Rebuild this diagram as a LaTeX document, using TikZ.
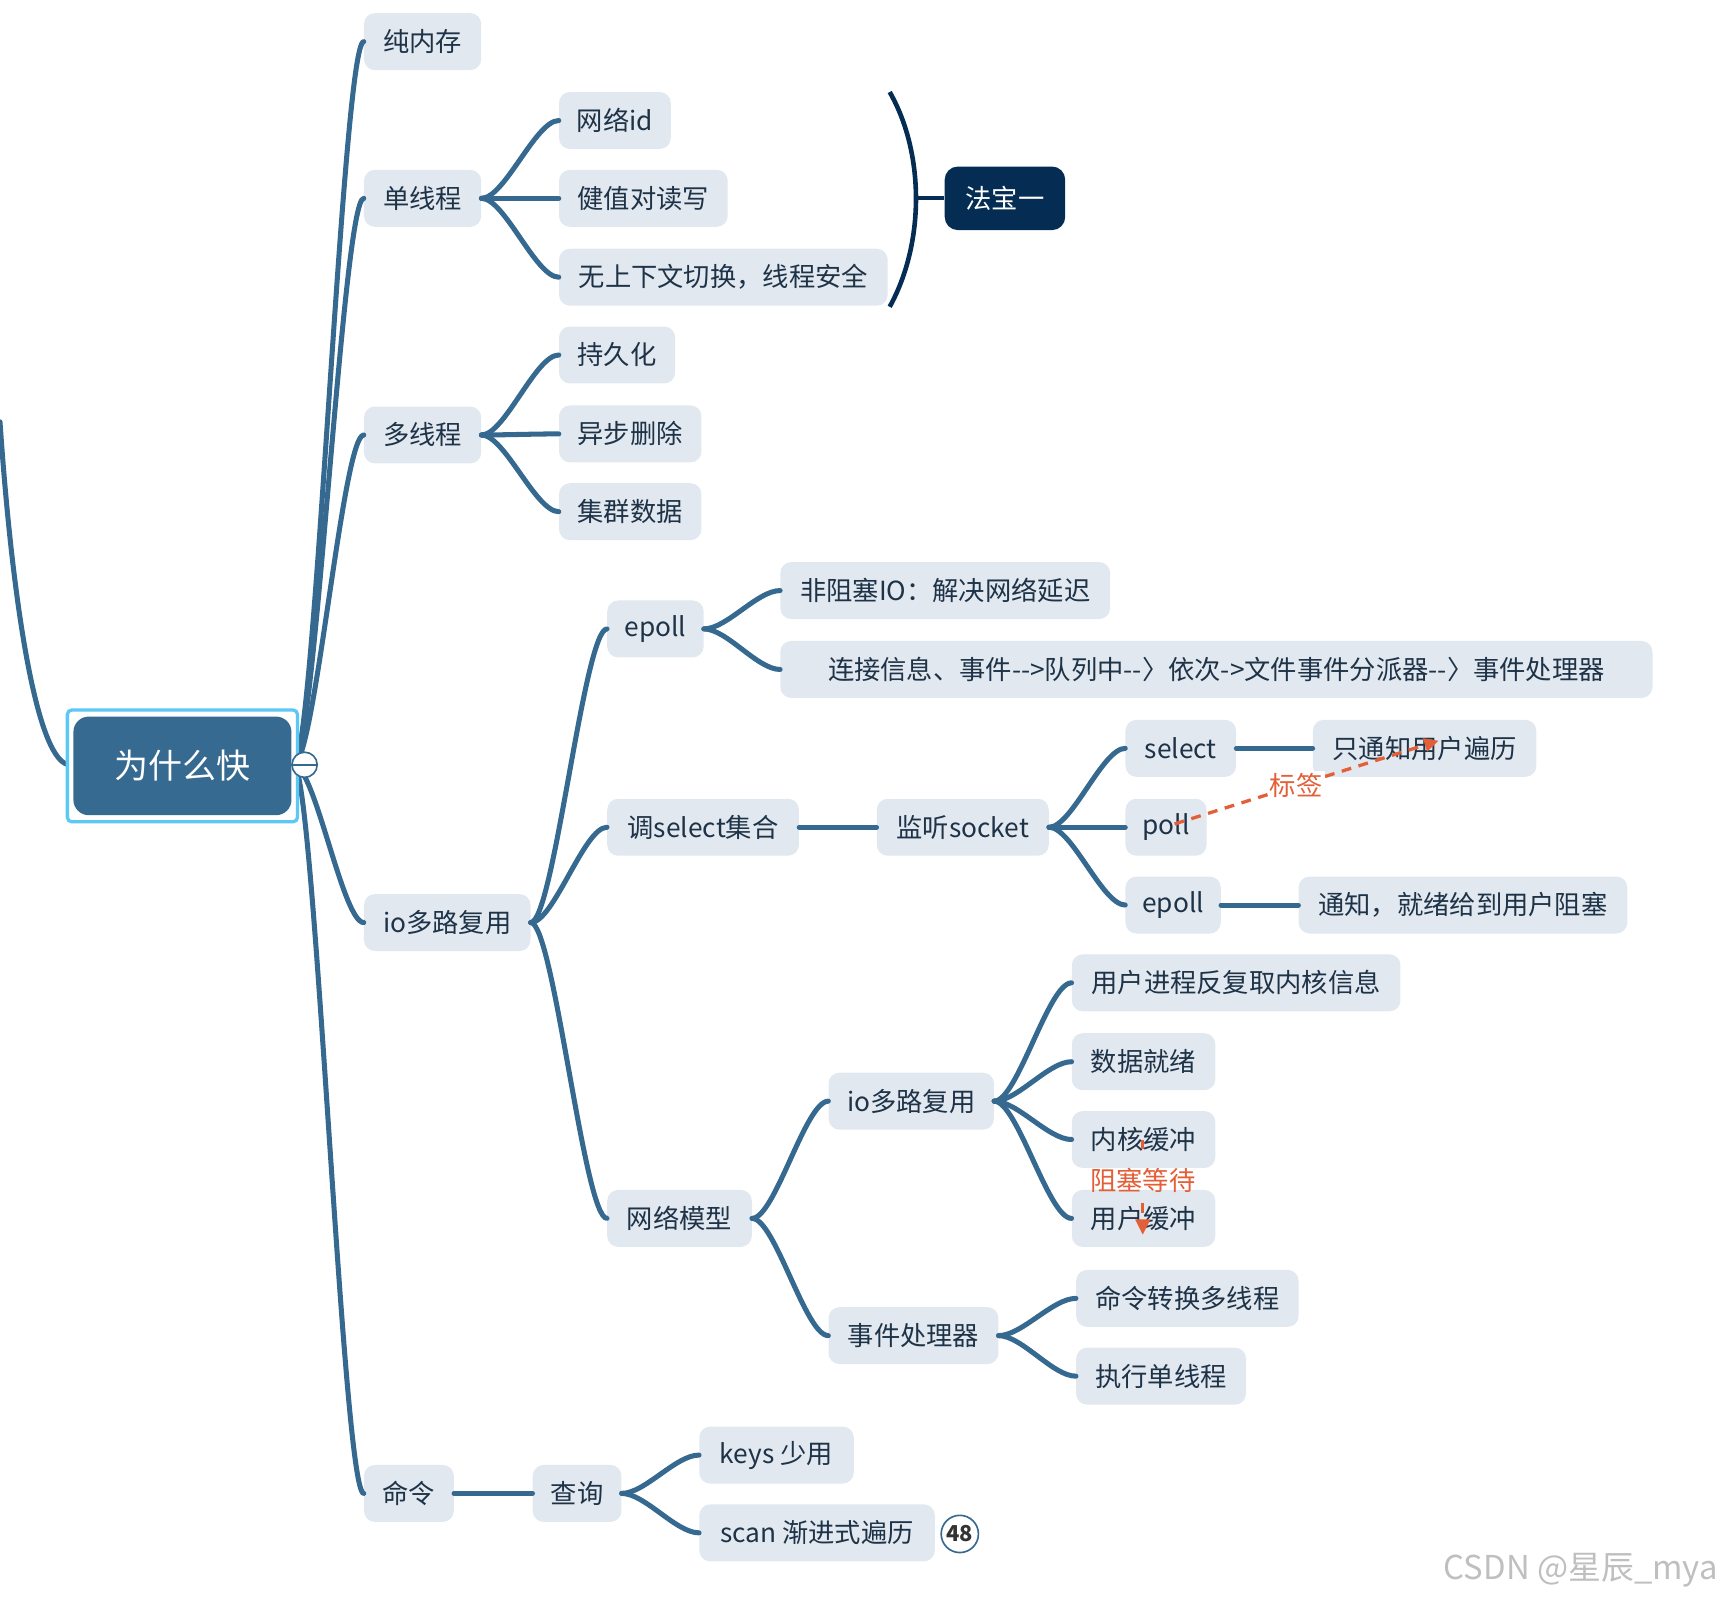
\documentclass[tikz,border=0pt]{standalone}
\usepackage{fontspec}
\newfontfamily\cjk{Noto Sans CJK SC}
\usetikzlibrary{calc,arrows.meta}
\definecolor{linkc}{HTML}{36698F}
\definecolor{nodefill}{HTML}{E2E8EF}
\definecolor{textc}{HTML}{1E3348}
\definecolor{navy}{HTML}{052C52}
\definecolor{orangec}{HTML}{E35F38}
\definecolor{hilite}{HTML}{5BC8F5}
\definecolor{rootfill}{HTML}{376A90}
\tikzset{
  link/.style={draw=linkc, line width=4.6pt, line cap=round},
  box/.style={fill=nodefill, rounded corners=10pt, minimum height=52pt, inner xsep=0pt, inner ysep=0pt, text=textc, font=\cjk\fontsize{24}{28}\selectfont, anchor=west},
  orangedash/.style={draw=orangec, line width=3pt, dash pattern=on 9pt off 7pt},
  orangelabel/.style={text=orangec, font=\cjk\fontsize{24}{28}\selectfont, inner sep=2pt},
}
\newcommand\mlink[2]{\draw[link] let \p1=(#1), \p2=(#2) in (\p1) .. controls ({\x1+0.3*(\x2-\x1)},\y1) and ({\x2-0.3*(\x2-\x1)},\y2) .. (\p2);}
\begin{document}
\begin{tikzpicture}[x=1pt,y=-1pt]
\useasboundingbox (0,0) rectangle (1568,1460);
% nodes
\node[box, minimum width=107pt] (n1) at (332,38) {纯内存};
\node[box, minimum width=107pt] (n2) at (332,181) {单线程};
\node[box, minimum width=107pt] (n3) at (332,397) {多线程};
\node[box, minimum width=152pt] (n4) at (332,842) {io多路复用};
\node[box, minimum width=82pt] (n5) at (332,1363) {命令};

\node[box, minimum width=102pt] (n21) at (510,110) {网络id};
\node[box, minimum width=154pt] (n22) at (510,181) {健值对读写};
\node[box, minimum width=300pt] (n23) at (510,253) {无上下文切换，线程安全};
\node[box, minimum width=110pt, minimum height=58pt, fill=navy, text=white, rounded corners=12pt] (fb) at (862,181) {法宝一};

\node[box, minimum width=106pt] (n31) at (510,324) {持久化};
\node[box, minimum width=130pt] (n32) at (510,396) {异步删除};
\node[box, minimum width=130pt] (n33) at (510,467) {集群数据};

\node[box, minimum width=88pt] (n41) at (554,574) {epoll};
\node[box, minimum width=175pt] (n42) at (554,755) {调select集合};
\node[box, minimum width=132pt] (n43) at (554,1112) {网络模型};

\node[box, minimum width=301pt] (n411) at (712,539) {非阻塞IO：解决网络延迟};
\node[box, minimum width=796pt] (n412) at (712,611) {连接信息、事件-{}-{}>队列中-{}-〉依次->文件事件分派器-{}-〉事件处理器};

\node[box, minimum width=157pt] (n421) at (800,755) {监听socket};
\node[box, minimum width=101pt] (s1) at (1027,683) {select};
\node[box, minimum width=74pt] (s2) at (1027,755) {poll};
\node[box, minimum width=87pt] (s3) at (1027,826) {epoll};
\node[box, minimum width=204pt] (s1a) at (1198,683) {只通知用户遍历};
\node[box, minimum width=300pt] (s3a) at (1185,826) {通知，就绪给到用户阻塞};

\node[box, minimum width=151pt] (m1) at (756,1005) {io多路复用};
\node[box, minimum width=155pt] (m2) at (756,1219) {事件处理器};
\node[box, minimum width=300pt] (m11) at (978,897) {用户进程反复取内核信息};
\node[box, minimum width=131pt] (m12) at (978,969) {数据就绪};
\node[box, minimum width=131pt] (m13) at (978,1040) {内核缓冲};
\node[box, minimum width=131pt] (m14) at (978,1112) {用户缓冲};
\node[box, minimum width=203pt] (m21) at (982,1185) {命令转换多线程};
\node[box, minimum width=155pt] (m22) at (982,1256) {执行单线程};

\node[box, minimum width=81pt] (c1) at (486,1363) {查询};
\node[box, minimum width=141pt] (c11) at (638,1328) {keys 少用};
\node[box, minimum width=215pt] (c12) at (638,1399) {scan 渐进式遍历};

% root links
\coordinate (rootout) at (268,698);
\coordinate (incoming) at (0,385);
\coordinate (rootin) at (64,698);
\draw[link] (incoming) .. controls (12,560) and (35,698) .. (rootin);
\mlink{rootout}{n1.west}
\mlink{rootout}{n2.west}
\mlink{rootout}{n3.west}
\mlink{rootout}{n4.west}
\mlink{rootout}{n5.west}
% level 2
\mlink{n2.east}{n21.west}
\mlink{n2.east}{n22.west}
\mlink{n2.east}{n23.west}
\mlink{n3.east}{n31.west}
\mlink{n3.east}{n32.west}
\mlink{n3.east}{n33.west}
\mlink{n4.east}{n41.west}
\mlink{n4.east}{n42.west}
\mlink{n4.east}{n43.west}
\mlink{n41.east}{n411.west}
\mlink{n41.east}{n412.west}
\draw[link] (n42.east) -- (n421.west);
\mlink{n421.east}{s1.west}
\mlink{n421.east}{s2.west}
\mlink{n421.east}{s3.west}
\draw[link] (s1.east) -- (s1a.west);
\draw[link] (s3.east) -- (s3a.west);
\mlink{n43.east}{m1.west}
\mlink{n43.east}{m2.west}
\mlink{m1.east}{m11.west}
\mlink{m1.east}{m12.west}
\mlink{m1.east}{m13.west}
\mlink{m1.east}{m14.west}
\mlink{m2.east}{m21.west}
\mlink{m2.east}{m22.west}
\draw[link] (n5.east) -- (c1.west);
\mlink{c1.east}{c11.west}
\mlink{c1.east}{c12.west}

% brace for 法宝一
\coordinate (brtop) at (812,84);
\coordinate (brbot) at (812,280);
\coordinate (brmid) at (836,181);
\draw[draw=navy, line width=4.2pt] (brtop) .. controls (844,140) and (844,222) .. (brbot);
\draw[draw=navy, line width=3.5pt] (brmid) -- (fb.west);

% root node
\node[draw=hilite, line width=3pt, fill=white, rounded corners=4pt, minimum width=210pt, minimum height=102pt, anchor=west, inner sep=0pt] (rootframe) at (60,699) {};
\node[fill=rootfill, rounded corners=14pt, minimum width=199pt, minimum height=90pt, text=white, font=\cjk\fontsize{31}{36}\selectfont, inner sep=0pt] (root) at (rootframe.center) {为什么快};
% collapse
\node[circle, draw=linkc, line width=1.5pt, fill=white, minimum size=23pt, inner sep=0pt] (collapse) at (278,698) {};
\draw[draw=linkc, line width=2pt] (collapse.west) -- (collapse.east);

% dashed label arrow
\coordinate (pa) at (1072,752);
\coordinate (pb) at (1313,676);
\draw[orangedash, -{Triangle[length=13pt,width=12pt]}] (pa) -- node[pos=0.46, fill=white, orangelabel] (lbl) {标签} (pb);

\coordinate (ka) at (1043,1040);
\coordinate (kb) at (1043,1052);
\coordinate (ua) at (1043,1098);
\coordinate (ub) at (1043,1127);
\draw[orangedash] (ka) -- (kb);
\draw[orangedash, -{Triangle[length=14pt,width=13pt]}] (ua) -- (ub);
\node[orangelabel] (zs) at (1043,1077) {阻塞等待};

% badge
\node[circle, draw=linkc, line width=1.5pt, fill=white, minimum size=34pt, inner sep=0pt, text=black!80, font=\cjk\bfseries\fontsize{20}{22}\selectfont] (badge) at (876,1400) {48};

% watermark
\node[anchor=east, text=black!25, font=\cjk\fontsize{30}{34}\selectfont, inner sep=0pt] (wm) at (1568,1433) {CSDN @星辰\_mya};
\end{tikzpicture}
\end{document}
